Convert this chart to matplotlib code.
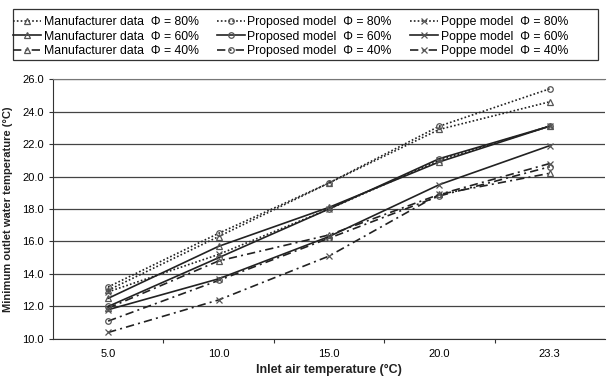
import numpy as np
import matplotlib
matplotlib.use("Agg")
import matplotlib.pyplot as plt
from matplotlib.patches import Rectangle

plt.rcParams["font.family"] = ["Liberation Sans", "DejaVu Sans"]

# 入口空気温度（カテゴリ）
inlet_temp = ["5.0", "10.0", "15.0", "20.0", "23.3"]

# 各シリーズの値
manuf_80 = [13.0, 16.3, 19.6, 22.9, 24.6]
prop_80 = [13.2, 16.5, 19.6, 23.1, 25.4]
poppe_80 = [12.9, 15.2, 18.0, 21.0, 23.1]
manuf_60 = [12.5, 15.7, 18.1, 20.9, 23.1]
prop_60 = [12.0, 15.0, 18.0, 21.1, 23.1]
poppe_60 = [11.8, 13.7, 16.3, 19.5, 21.9]
manuf_40 = [11.9, 14.8, 16.4, 18.9, 20.2]
prop_40 = [11.1, 13.6, 16.2, 18.8, 20.6]
poppe_40 = [10.4, 12.4, 15.1, 18.9, 20.8]

dotted = (0, (1, 1.3))
dashdot = (0, (5, 2.5, 1.2, 2.5))

series = [
    ("Manufacturer data  \u03a6 = 80%", manuf_80, dotted, "^"),
    ("Manufacturer data  \u03a6 = 60%", manuf_60, "-", "^"),
    ("Manufacturer data  \u03a6 = 40%", manuf_40, dashdot, "^"),
    ("Proposed model  \u03a6 = 80%", prop_80, dotted, "o"),
    ("Proposed model  \u03a6 = 60%", prop_60, "-", "o"),
    ("Proposed model  \u03a6 = 40%", prop_40, dashdot, "o"),
    ("Poppe model  \u03a6 = 80%", poppe_80, dotted, "x"),
    ("Poppe model  \u03a6 = 60%", poppe_60, "-", "x"),
    ("Poppe model  \u03a6 = 40%", poppe_40, dashdot, "x"),
]

fig = plt.figure(figsize=(6.08, 3.80), dpi=100)
ax = fig.add_axes([0.087, 0.108, 0.908, 0.684])

x = np.arange(len(inlet_temp))
for label, vals, ls, mk in series:
    ax.plot(x, vals, linestyle=ls, color="#222222", linewidth=1.2,
            marker=mk, markersize=4, markerfacecolor="none",
            markeredgecolor="#555555", markeredgewidth=0.9, label=label)

ax.set_xlim(-0.5, len(inlet_temp) - 0.5)
ax.set_ylim(10, 26)
ax.set_yticks(np.arange(10, 26.1, 2))
ax.set_yticklabels([f"{v:.1f}" for v in np.arange(10, 26.1, 2)])
ax.set_xticks(np.arange(0.5, len(inlet_temp) - 0.5, 1))
ax.set_xticklabels([])
ax.set_xticks(x, minor=True)
ax.set_xticklabels(inlet_temp, minor=True)
ax.tick_params(axis="x", which="minor", length=0, pad=7)
ax.tick_params(axis="both", which="major", length=3, direction="out",
               labelsize=8, color="#333333")
ax.tick_params(axis="x", which="minor", labelsize=8)

ax.grid(axis="y", color="#444444", linewidth=0.9)
ax.spines["right"].set_visible(False)
ax.spines["top"].set_color("#777777")
ax.spines["left"].set_color("#333333")
ax.spines["bottom"].set_color("#333333")

ax.set_xlabel("Inlet air temperature (\u00b0C)", fontsize=9, fontweight="bold",
              color="#222222", labelpad=4)
ax.set_ylabel("Minimum outlet water temperature (\u00b0C)", fontsize=8,
              fontweight="bold", color="#222222", labelpad=7)

# 凡例（枠は別に描く）
fig.legend(loc="upper left", bbox_to_anchor=(13 / 608, 1 - 16 / 380),
           ncol=3, fontsize=8.8, frameon=False, handlelength=2.3,
           handletextpad=0.2, labelspacing=0.22, columnspacing=1.5,
           borderaxespad=0, borderpad=0)
fig.patches.append(Rectangle((13 / 608, 1 - 60 / 380), 585 / 608, 51 / 380,
                             transform=fig.transFigure, fill=False,
                             edgecolor="#333333", linewidth=0.9))

fig.savefig("out.png", dpi=100)
